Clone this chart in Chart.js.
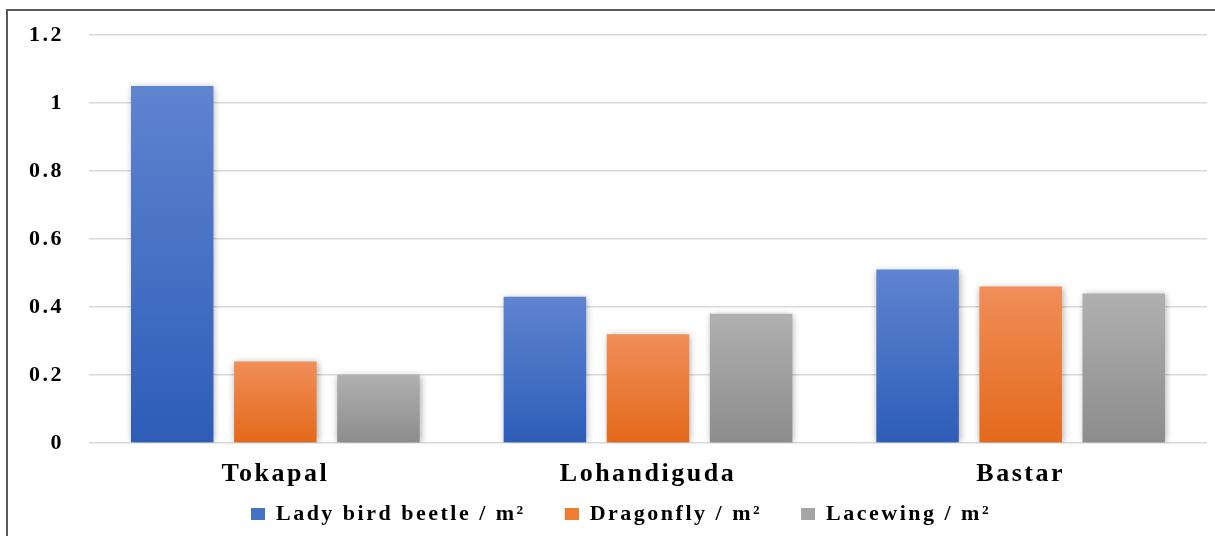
<!DOCTYPE html>
<html>
<head>
<meta charset="utf-8">
<script src="https://cdn.jsdelivr.net/npm/chart.js@4"></script>
<style>
  html, body { margin: 0; padding: 0; background: #ffffff; }
  canvas { display: block; }
</style>
</head>
<body>
<canvas id="chart" width="1215" height="536"></canvas>
<script>
// Natural enemy density per square metre in three blocks
const districts = ['Tokapal', 'Lohandiguda', 'Bastar'];
const ladyBirdBeetle = [1.05, 0.43, 0.51];
const dragonfly = [0.24, 0.32, 0.46];
const lacewing = [0.20, 0.38, 0.44];
const seriesNames = ['Lady bird beetle / m²', 'Dragonfly / m²', 'Lacewing / m²'];
const yTicks = [0, 0.2, 0.4, 0.6, 0.8, 1, 1.2];
const yTickLabels = ['0', '0.2', '0.4', '0.6', '0.8', '1', '1.2'];

// [top shade, bottom shade, legend swatch]
const palette = [
  ['#5f84d0', '#2d5db8', '#4472c4'],
  ['#f18e59', '#e3691a', '#ed7d31'],
  ['#b0b0b0', '#8c8c8c', '#a5a5a5']
];

const serif = '"Liberation Serif", "Times New Roman", serif';

// vertical gradient spanning each bar from its top to the zero line
function barFill(ctx, shades) {
  const chart = ctx.chart;
  const y = chart.scales.y;
  if (ctx.type !== 'data' || !y || !chart.chartArea || !ctx.parsed) return shades[2];
  const top = y.getPixelForValue(ctx.parsed.y);
  const base = y.getPixelForValue(0);
  if (!isFinite(top) || !isFinite(base) || top === base) return shades[2];
  const g = chart.ctx.createLinearGradient(0, top, 0, base);
  g.addColorStop(0, shades[0]);
  g.addColorStop(1, shades[1]);
  return g;
}

function makeSet(label, values, shades) {
  return {
    label: label,
    data: values,
    backgroundColor: (c) => barFill(c, shades),
    borderWidth: 0,
    categoryPercentage: 0.83,
    barPercentage: 0.8
  };
}

// legend swatch: small square sitting at the right end of a wider blank slot,
// which leaves extra room between neighbouring legend entries
const SWATCH = 14, SWATCH_H = 12, LEAD = 24;
function swatch(color) {
  const cv = document.createElement('canvas');
  cv.width = LEAD + SWATCH;
  cv.height = SWATCH_H;
  const c = cv.getContext('2d');
  c.fillStyle = color;
  c.fillRect(LEAD, 0, SWATCH, SWATCH_H);
  return cv;
}

// wide-set lettering used throughout the figure
const spacing = {
  id: 'spacing',
  beforeUpdate(chart) { chart.ctx.letterSpacing = '2.5px'; },
  beforeDraw(chart) { chart.ctx.letterSpacing = '2.5px'; }
};

// soft drop shadow behind the bars
const barShadow = {
  id: 'barShadow',
  beforeDatasetsDraw(chart) {
    const c = chart.ctx;
    c.save();
    c.shadowColor = 'rgba(0,0,0,0.35)';
    c.shadowBlur = 7;
    c.shadowOffsetX = 1;
    c.shadowOffsetY = 1;
  },
  afterDatasetsDraw(chart) { chart.ctx.restore(); }
};

// frame lines along the top and left edge of the figure
const frame = {
  id: 'frame',
  afterDraw(chart) {
    const c = chart.ctx;
    c.save();
    c.strokeStyle = '#5a5a5a';
    c.lineWidth = 2;
    c.beginPath();
    c.moveTo(7, 536);
    c.lineTo(7, 10);
    c.lineTo(1215, 10);
    c.stroke();
    c.restore();
  }
};

new Chart(document.getElementById('chart'), {
  type: 'bar',
  data: {
    labels: districts,
    datasets: [
      makeSet(seriesNames[0], ladyBirdBeetle, palette[0]),
      makeSet(seriesNames[1], dragonfly, palette[1]),
      makeSet(seriesNames[2], lacewing, palette[2])
    ]
  },
  options: {
    responsive: false,
    animation: false,
    devicePixelRatio: 1,
    layout: { padding: { left: 11, right: 8, top: 35, bottom: 1 } },
    plugins: {
      tooltip: { enabled: false },
      legend: {
        position: 'bottom',
        labels: {
          color: '#000',
          font: { family: serif, size: 22, weight: 'bold' },
          usePointStyle: true,
          pointStyleWidth: LEAD + SWATCH,
          boxHeight: SWATCH_H,
          padding: 15,
          generateLabels(chart) {
            return chart.data.datasets.map((ds, i) => ({
              text: ds.label,
              pointStyle: swatch(palette[i][2]),
              fillStyle: palette[i][2],
              strokeStyle: palette[i][2],
              lineWidth: 0,
              hidden: false,
              datasetIndex: i,
              fontColor: '#000'
            }));
          }
        }
      }
    },
    scales: {
      x: {
        grid: { display: false },
        border: { display: false },
        ticks: {
          color: '#000',
          padding: 8,
          font: { family: serif, size: 26, weight: 'bold' }
        },
        afterFit(s) { s.height = 45; s.paddingLeft = 0; s.paddingRight = 0; }
      },
      y: {
        min: 0,
        max: 1.2,
        grid: { color: '#d9d9d9', lineWidth: 1.5, drawTicks: false },
        border: { display: false },
        ticks: {
          color: '#000',
          padding: 25,
          font: { family: serif, size: 22, weight: 'bold' },
          callback: (v, i) => yTickLabels[i]
        },
        afterBuildTicks(s) { s.ticks = yTicks.map(v => ({ value: v })); },
        afterFit(s) { s.width = 78; s.paddingTop = 0; s.paddingBottom = 0; }
      }
    }
  },
  plugins: [spacing, barShadow, frame]
});
</script>
</body>
</html>
